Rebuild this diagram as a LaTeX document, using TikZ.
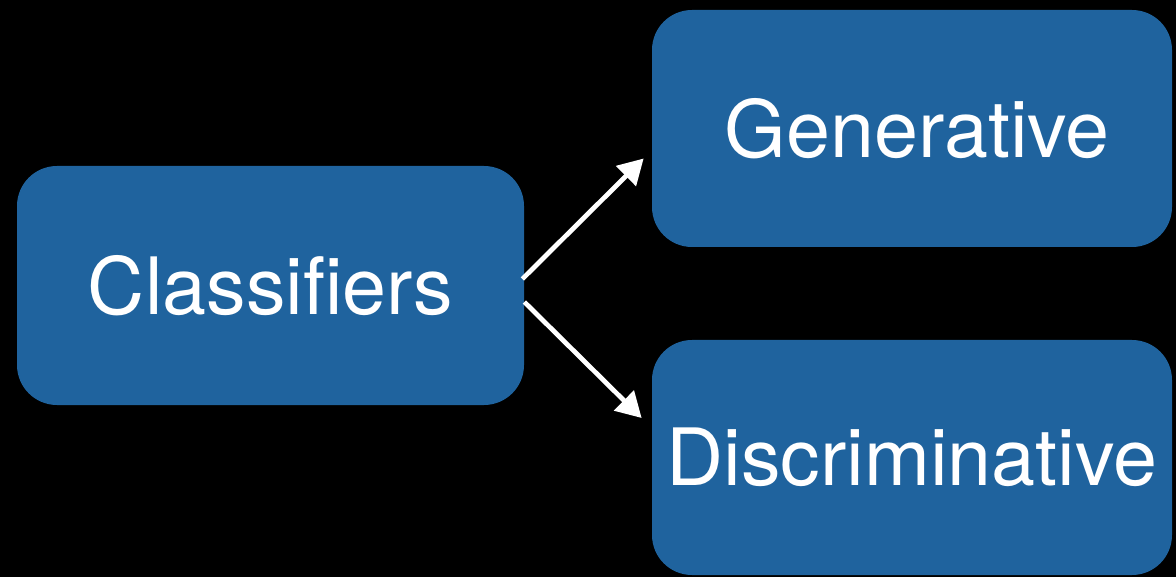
\documentclass[tikz,border=0pt]{standalone}
\usepackage{fontspec}
\setmainfont{TeX Gyre Heros}
\usetikzlibrary{arrows.meta}
\definecolor{keyblue}{RGB}{31,99,158}

\begin{document}
\begin{tikzpicture}[
    box/.style={fill=keyblue, rounded corners=0.8cm, text=white,
        font=\fontsize{45}{54}\selectfont, inner sep=0pt},
    arrowline/.style={white, line width=2.7pt,
        -{Triangle[length=0.5cm,width=0.55cm]}}
]
    % fond noir
    \fill[black] (0,0) rectangle (23.52,11.54);
    \useasboundingbox (0,0) rectangle (23.52,11.54);
    % boîtes
    \node[box, minimum width=10.14cm, minimum height=4.78cm] (cls) at (5.41,5.83) {Classifiers};
    \node[box, minimum width=10.4cm, minimum height=4.74cm] (gen) at (18.24,8.97) {\hspace{0.2cm}Generative};
    \node[box, minimum width=10.4cm, minimum height=4.7cm] (disc) at (18.24,2.39) {Discriminative};
    % flèches
    \draw[arrowline] ([xshift=-0.04cm,yshift=0.13cm]cls.east) -- ([xshift=-0.16cm,yshift=-0.6cm]gen.west);
    \draw[arrowline] ([yshift=-0.33cm]cls.east) -- ([xshift=-0.2cm,yshift=0.79cm]disc.west);
\end{tikzpicture}
\end{document}
